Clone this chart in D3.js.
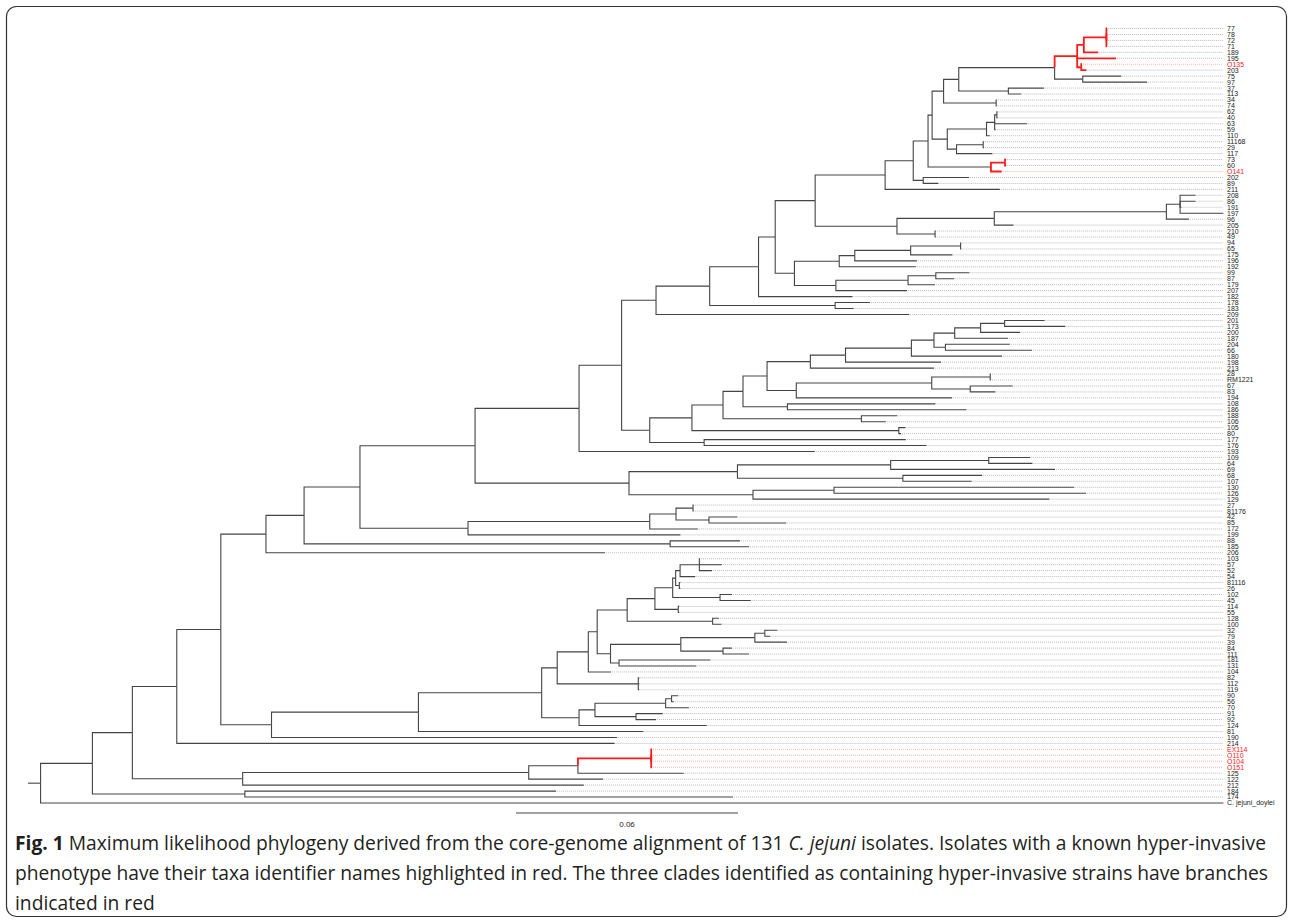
<!DOCTYPE html>
<html lang="en">
<head>
    <meta charset="UTF-8">
    <title>C. jejuni core-genome phylogeny</title>
    <script src="https://cdnjs.cloudflare.com/ajax/libs/d3/7.8.5/d3.min.js"></script>
    <style>
        body { margin: 0; padding: 0; background: #fff; }
        svg { display: block; }
        .tip-label { font-family: "Liberation Sans", Arial, sans-serif; font-size: 7px; fill: #222; }
        .caption { font-family: "Open Sans", "Liberation Sans", sans-serif; font-size: 19.25px; fill: #231f20; }
    </style>
</head>
<body>
<div id="chart"></div>
<script>
// Newick pieces, branch lengths in substitutions/site
// upper half
const clade1054 = "((((77:0.0002,78:0.0002,72:0.0002,71:0.0002):0.0061,189:0.0039):0.0018,195:0.0105,(O135:0.0002,203:0.0014):0.0011):0.0061,(75:0.0104,97:0.0174):0.0076)";
const clade947 = "((((62:0.0002,40:0.0002):0.0006,63:0.0088,59:0.0003):0.0022,110:0.0009):0.0106,((11168:0.0002,29:0.0002):0.0072,117:0.0097):0.0025)";
const clade991 = "((73:0.0003,60:0.0003):0.0038,O141:0.0029)";
const clade885 = `((((((${clade1054}:0.0259,(37:0.0096,113:0.0035):0.0134):0.0041,(34:0.0002,74:0.0002):0.0142):0.0031,${clade947}:0.0041):0.0011,${clade991}:0.0170):0.0040,(202:0.0124,89:0.0041):0.0027):0.0076,211:0.0310)`;
const clade897 = "((((208:0.0042,86:0.0042,191:0.0004,197:0.0116):0.0037,96:0.0061):0.0465,205:0.0052):0.0263,(210:0.0002,49:0.0002):0.0103)";
const clade795 = "(((((94:0.0002,65:0.0002):0.0135,175:0.0113):0.0151,196:0.0168):0.0042,192:0.0207):0.0121,(((99:0.0091,87:0.0050):0.0075,179:0.0073):0.0195,207:0.0192):0.0112)";
const clade815 = `(${clade885}:0.0189,${clade897}:0.0221)`;
const clade656 = `((((${clade815}:0.0108,${clade795}:0.0052):0.0045,182:0.0254):0.0132,(178:0.0094,183:0.0050):0.0339):0.0145,209:0.0684)`;
const clade955 = "(((201:0.0108,173:0.0164):0.0065,200:0.0107):0.0070,187:0.0144)";
const clade811 = `((((${clade955}:0.0056,(204:0.0174,66:0.0234):0.0031):0.0061,180:0.0245):0.0178,198:0.0258):0.0095,213:0.0334)`;
const clade797 = "(((28:0.0002,RM1221:0.0002):0.0158,(67:0.0115,83:0.0068):0.0104):0.0366,194:0.0421)";
const clade650 = `(((((${clade811}:0.0117,${clade797}:0.0079):0.0065,(108:0.0400,186:0.0484):0.0120):0.0054,(188:0.0097,106:0.0066):0.0374):0.0084,(105:0.0018,80:0.0006):0.0559):0.0114,(177:0.0545,176:0.0601):0.0147)`;
const clade579 = `((${clade656}:0.0093,${clade650}:0.0076):0.0115,193:0.0637)`;
const clade629 = "((((109:0.0112,64:0.0118):0.0265,69:0.0444):0.0414,(68:0.0214,107:0.0186):0.0447):0.0293,((130:0.0649,126:0.0681):0.0219,129:0.0801):0.0335)";
const clade470 = "((((27:0.0002,81176:0.0002):0.0046,(42:0.0077,85:0.0209):0.0089):0.0071,172:0.0130):0.0491,199:0.0574)";
const clade266 = `((((${clade579}:0.0281,${clade629}:0.0416):0.0311,${clade470}:0.0292):0.0151,(88:0.0189,185:0.0213):0.0989):0.0103,206:0.0916)`;
// lower half
const clade627 = "((((((103:0.0002,57:0.0061,52:0.0034):0.0052,54:0.0041):0.0012,(81116:0.0003,26:0.0003):0.0010):0.0008,(102:0.0032,45:0.0083):0.0128):0.0048,(114:0.0003,55:0.0003):0.0063):0.0075,(128:0.0017,100:0.0024):0.0231)";
const clade611 = "((((32:0.0034,79:0.0015):0.0027,39:0.0087):0.0200,(84:0.0024,111:0.0070):0.0114):0.0190,(181:0.0247,131:0.0209):0.0023)";
const clade557 = `(((${clade627}:0.0081,${clade611}:0.0036):0.0024,104:0.0061):0.0084,(82:0.0003,112:0.0003,119:0.0003):0.0219)`;
const clade579b = "((((90:0.0018,56:0.0006):0.0016,70:0.0063):0.0191,(91:0.0072,92:0.0054):0.0111):0.0043,124:0.0345)";
const clade272 = `(((${clade557}:0.0042,${clade579b}:0.0101):0.0333,81:0.0608):0.0397,190:0.0934)`;
const cladeE = "((((EX114:0.0002,O110:0.0002,O104:0.0002,O151:0.0002):0.0198,125:0.0286):0.0133,122:0.0201):0.0773,212:0.0922)";
const newick = `(((((${clade266}:0.0122,${clade272}:0.0137):0.0119,214:0.1183):0.0120,${cladeE}:0.0298):0.0108,(184:0.0841,174:0.1319):0.0412):0.0140,C. jejuni_doylei:0.3195):0.0034;`;

// hyper-invasive isolates (red labels)
const redTaxa = ["O135", "O141", "EX114", "O110", "O104", "O151"];

// clades with branches in red
const redClades = [
  { taxa: ["77", "78", "72", "71", "189", "195", "O135", "203"], stem: true },
  { taxa: ["73", "60", "O141"], stem: false },
  { taxa: ["EX114", "O110", "O104", "O151"], stem: true }
];

const scaleBarValue = 0.06;
const captionLines = [
  [["Fig. 1", "bold"], [" Maximum likelihood phylogeny derived from the core-genome alignment of 131 "], ["C. jejuni", "italic"], [" isolates. Isolates with a known hyper-invasive"]],
  [["phenotype have their taxa identifier names highlighted in red. The three clades identified as containing hyper-invasive strains have branches"]],
  [["indicated in red"]]
];
const captionWidths = [1251, 1253, null];

function parseNewick(s) {
  let i = 0;
  function node() {
    const n = {};
    if (s[i] === "(") {
      i++;
      n.children = [node()];
      while (s[i] === ",") { i++; n.children.push(node()); }
      i++;
    }
    let name = "";
    while (i < s.length && !",():;".includes(s[i])) name += s[i++];
    n.name = name.trim();
    n.length = 0;
    if (s[i] === ":") {
      i++;
      let num = "";
      while (i < s.length && !",();".includes(s[i])) num += s[i++];
      n.length = +num;
    }
    return n;
  }
  return node();
}

const width = 1293, height = 923;
const svg = d3.select("#chart").append("svg")
    .attr("width", width)
    .attr("height", height);

// frame
svg.append("rect")
    .attr("x", 6.5).attr("y", 6.5)
    .attr("width", 1280).attr("height", 910)
    .attr("rx", 10)
    .attr("fill", "none")
    .attr("stroke", "#333")
    .attr("stroke-width", 1.2);

const root = d3.hierarchy(parseNewick(newick));
root.eachBefore(d => { d.dist = (d.parent ? d.parent.dist : 0) + d.data.length; });

const leaves = root.leaves();
const maxDist = d3.max(leaves, d => d.dist);

const x = d3.scaleLinear().domain([0, maxDist]).range([28, 1223]);
const y = d3.scaleLinear().domain([0, leaves.length - 1]).range([28.5, 803]);

leaves.forEach((d, i) => { d.yPos = y(i); });
root.eachAfter(d => {
  if (d.children) d.yPos = (d.children[0].yPos + d.children[d.children.length - 1].yPos) / 2;
});

// mark red branches
const byName = new Map(leaves.map(d => [d.data.name, d]));
redClades.forEach(c => {
  const nodes = c.taxa.map(t => byName.get(t));
  let mrca = nodes[0];
  nodes.slice(1).forEach(n => {
    const anc = new Set(n.ancestors());
    while (!anc.has(mrca)) mrca = mrca.parent;
  });
  mrca.descendants().forEach(d => { if (d !== mrca || c.stem) d.red = true; });
});

const g = svg.append("g");
const links = root.descendants().filter(d => d.parent);
links.sort((a, b) => (a.red ? 1 : 0) - (b.red ? 1 : 0));

// dotted tip extensions
g.selectAll("line.ext")
  .data(leaves)
  .join("line")
    .attr("x1", d => x(d.dist) + 1)
    .attr("x2", x.range()[1])
    .attr("y1", d => d.yPos)
    .attr("y2", d => d.yPos)
    .attr("stroke", d => redTaxa.includes(d.data.name) ? "#f7a0a0" : "#aaa")
    .attr("stroke-width", 0.8)
    .attr("stroke-dasharray", "1,1");

// root stub
g.append("line")
    .attr("x1", x(0)).attr("x2", x(root.dist))
    .attr("y1", root.yPos).attr("y2", root.yPos)
    .attr("stroke", "#444").attr("stroke-width", 1.1);

g.selectAll("path.branch")
  .data(links)
  .join("path")
    .attr("class", "branch")
    .attr("fill", "none")
    .attr("stroke", d => d.red ? "#ff1a1a" : "#444")
    .attr("stroke-width", d => d.red ? 1.8 : 1.1)
    .attr("d", d => `M${x(d.parent.dist)},${d.parent.yPos}V${d.yPos}H${x(d.dist)}`);

// tip labels
g.selectAll("text.tip-label")
  .data(leaves)
  .join("text")
    .attr("class", "tip-label")
    .attr("x", x.range()[1] + 4)
    .attr("y", d => d.yPos)
    .attr("dy", "0.35em")
    .style("fill", d => redTaxa.includes(d.data.name) ? "#ff2020" : null)
    .text(d => d.data.name);

// scale bar
const barX0 = 516;
const barLen = x(scaleBarValue) - x(0);
svg.append("line")
    .attr("x1", barX0).attr("x2", barX0 + barLen)
    .attr("y1", 813).attr("y2", 813)
    .attr("stroke", "#444").attr("stroke-width", 1.1);
svg.append("text")
    .attr("x", barX0 + barLen / 2).attr("y", 827)
    .attr("text-anchor", "middle")
    .attr("font-family", "Liberation Sans, Arial, sans-serif")
    .attr("font-size", 8)
    .attr("fill", "#222")
    .text(scaleBarValue);

// caption
captionLines.forEach((line, li) => {
  const t = svg.append("text")
      .attr("class", "caption")
      .attr("x", 15)
      .attr("y", 850 + li * 30);
  if (captionWidths[li]) t.attr("textLength", captionWidths[li]).attr("lengthAdjust", "spacing");
  line.forEach(seg => {
    const s = t.append("tspan").text(seg[0]);
    if (seg[1] === "bold") s.attr("font-weight", "bold");
    if (seg[1] === "italic") s.attr("font-style", "italic");
  });
});
</script>
</body>
</html>
